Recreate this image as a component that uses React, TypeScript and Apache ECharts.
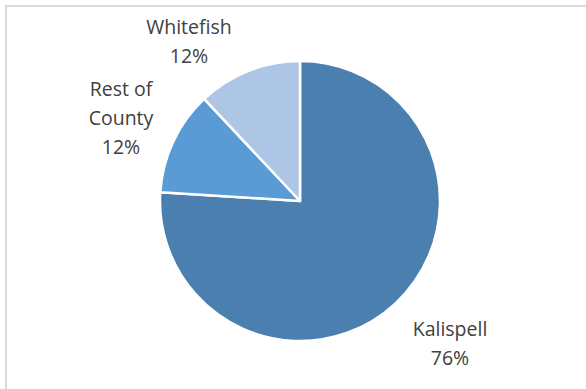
import React, { useEffect, useRef } from "react";
import * as echarts from "echarts";

const categories = ["Kalispell", "Rest of County", "Whitefish"];
const labelTexts = ["Kalispell", "Rest of\nCounty", "Whitefish"];
const values = [76, 12, 12];
const colors = ["#4a7fb0", "#5b9bd5", "#adc6e6"];

// label anchor positions (pixels), style only
const labelPos = [
  [450, 343],
  [121, 117],
  [189, 41],
];

export default function App() {
  const ref = useRef<HTMLDivElement>(null);
  useEffect(() => {
    document.body.style.margin = "0";
    const chart = echarts.init(ref.current!, null, { renderer: "svg" });
    chart.setOption({
      animation: false,
      backgroundColor: "#ffffff",
      graphic: [
        {
          type: "rect",
          shape: { x: 6, y: 6, width: 620, height: 420 },
          style: { fill: "none", stroke: "#d9d9d9", lineWidth: 2 },
          silent: true,
        },
      ],
      series: [
        {
          type: "pie",
          center: [300, 201],
          radius: 140,
          startAngle: 90,
          clockwise: true,
          avoidLabelOverlap: false,
          itemStyle: { borderColor: "#ffffff", borderWidth: 2.5 },
          label: {
            show: true,
            position: "outside",
            formatter: (p: any) => `${labelTexts[p.dataIndex]}\n${p.value}%`,
            fontFamily: "Open Sans",
            fontSize: 19.5,
            lineHeight: 29,
            color: "#404040",
            align: "center",
          },
          labelLine: { show: false },
          labelLayout: (params: any) => ({
            x: labelPos[params.dataIndex][0],
            y: labelPos[params.dataIndex][1],
            align: "center",
            verticalAlign: "middle",
          }),
          data: categories.map((c, i) => ({
            name: c,
            value: values[i],
            itemStyle: { color: colors[i] },
          })),
        },
      ],
    });
    return () => chart.dispose();
  }, []);
  return <div ref={ref} style={{ width: 586, height: 389 }} />;
}
